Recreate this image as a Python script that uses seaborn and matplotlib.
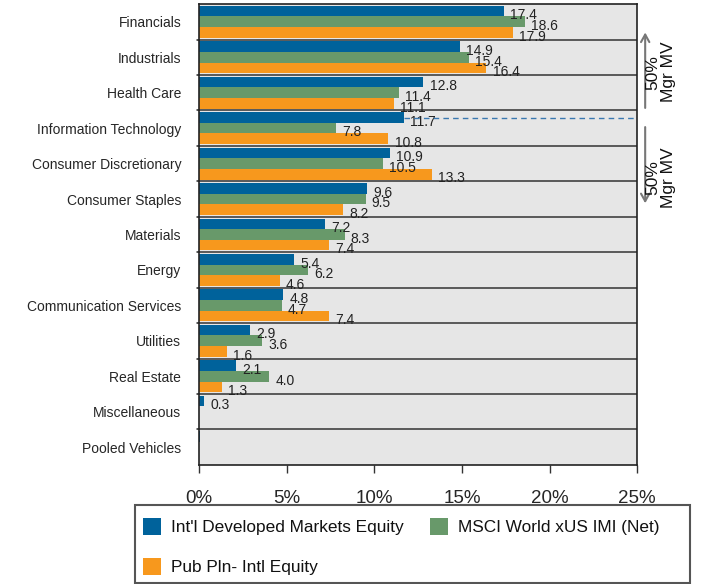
import matplotlib
matplotlib.use("Agg")
import matplotlib.pyplot as plt
import seaborn as sns
import pandas as pd
from matplotlib.patches import Patch, Rectangle

sectors = ["Financials", "Industrials", "Health Care", "Information Technology",
           "Consumer Discretionary", "Consumer Staples", "Materials", "Energy",
           "Communication Services", "Utilities", "Real Estate", "Miscellaneous",
           "Pooled Vehicles"]
series_names = ["Int'l Developed Markets Equity", "MSCI World xUS IMI (Net)",
                "Pub Pln- Intl Equity"]
intl_dev = [17.4, 14.9, 12.8, 11.7, 10.9, 9.6, 7.2, 5.4, 4.8, 2.9, 2.1, 0.3, 0.05]
msci_world = [18.6, 15.4, 11.4, 7.8, 10.5, 9.5, 8.3, 6.2, 4.7, 3.6, 4.0, 0.0, 0.0]
pub_pln = [17.9, 16.4, 11.1, 10.8, 13.3, 8.2, 7.4, 4.6, 7.4, 1.6, 1.3, 0.0, 0.0]
tick_values = [0, 5, 10, 15, 20, 25]
tick_labels = ["0%", "5%", "10%", "15%", "20%", "25%"]
colors = ["#00629b", "#68996a", "#f7981d"]

df = pd.DataFrame({
    "Sector": sectors * 3,
    "Series": sum([[s] * len(sectors) for s in series_names], []),
    "Weight": intl_dev + msci_world + pub_pln,
})

sns.set_theme(style="white")
plt.rcParams["font.family"] = ["Liberation Sans", "DejaVu Sans"]

fig = plt.figure(figsize=(7.04, 5.84), dpi=100)
ax = fig.add_axes([0.283, 0.204, 0.622, 0.789])
ax.set_facecolor("#e6e6e6")

sns.barplot(data=df, y="Sector", x="Weight", hue="Series", order=sectors,
            hue_order=series_names, palette=colors, orient="h", width=0.9,
            saturation=1, edgecolor="none", linewidth=0, legend=False, ax=ax)

ax.set_xlim(0, 25)
ax.set_ylim(len(sectors) - 0.5, -0.5)
ax.set_xlabel("")
ax.set_ylabel("")
ax.set_xticks(tick_values)
ax.set_xticklabels(tick_labels, fontsize=13.5)
ax.tick_params(axis="x", direction="out", length=6, width=1, color="#333333",
               pad=12, bottom=True)
ax.set_yticks(range(len(sectors)))
ax.set_yticklabels(sectors, fontsize=10)
ax.tick_params(axis="y", length=0, pad=13)

# row separators with small ticks on the left
for i in range(len(sectors) - 1):
    ax.axhline(i + 0.5, color="#333333", lw=1.1, zorder=0.5)
    ax.plot([-0.12, 0], [i + 0.5, i + 0.5], color="#222222", lw=1.1,
            clip_on=False)

for side in ["top", "right", "left", "bottom"]:
    ax.spines[side].set_visible(True)
    ax.spines[side].set_color("#222222")
    ax.spines[side].set_linewidth(1.2)

# value labels beside each bar
for container, vals in zip(ax.containers, [intl_dev, msci_world, pub_pln]):
    for bar, v in zip(container, vals):
        if v < 0.1:
            continue
        yc = bar.get_y() + bar.get_height() / 2
        ax.text(bar.get_width() + 0.35, yc + 0.12, f"{v:.1f}", fontsize=10,
                color="#222222", ha="left", va="center", clip_on=True)

# dashed reference from the Information Technology bar
it_bar = ax.containers[0][3]
it_y = it_bar.get_y() + it_bar.get_height() / 2
ax.plot([it_bar.get_width(), 25], [it_y, it_y], color="#3a78b0", lw=1,
        ls=(0, (4, 3)), zorder=3)

# half-of-manager-MV brackets on the right
arrow_style = dict(arrowstyle="->,head_length=0.45,head_width=0.25",
                   color="#777777", lw=1.5, shrinkA=0, shrinkB=0)
ax.annotate("", xy=(25.46, 0.3), xytext=(25.46, 2.43), xycoords="data",
            arrowprops=arrow_style, annotation_clip=False)
ax.annotate("", xy=(25.46, 5.12), xytext=(25.46, 2.97), xycoords="data",
            arrowprops=arrow_style, annotation_clip=False)
ax.text(26.35, 1.42, "50%\nMgr MV", rotation=90, fontsize=12.5, ha="center",
        va="center", color="#111111", clip_on=False, linespacing=1.0)
ax.text(26.35, 4.4, "50%\nMgr MV", rotation=90, fontsize=12.5, ha="center",
        va="center", color="#111111", clip_on=False, linespacing=1.0)

# legend: entries filled row by row, framed box below the chart
handles = [Patch(facecolor=c, edgecolor="none") for c in colors]
order = [0, 2, 1]
leg = fig.legend([handles[i] for i in order], [series_names[i] for i in order],
                 loc="upper left", bbox_to_anchor=(143 / 704, 1 - 518 / 584),
                 ncol=2, fontsize=12.4, frameon=False,
                 handlelength=1.05, handleheight=1.15, handletextpad=0.6,
                 columnspacing=1.5, borderpad=0, labelspacing=1.3,
                 borderaxespad=0)
for t in leg.get_texts():
    t.set_color("#111111")
fig.patches.append(Rectangle((135 / 704, 0.002), 555 / 704, 1 - 505 / 584 - 0.002,
                             transform=fig.transFigure, fill=False,
                             edgecolor="#555555", lw=1.5))

fig.savefig("out.png", dpi=100)
